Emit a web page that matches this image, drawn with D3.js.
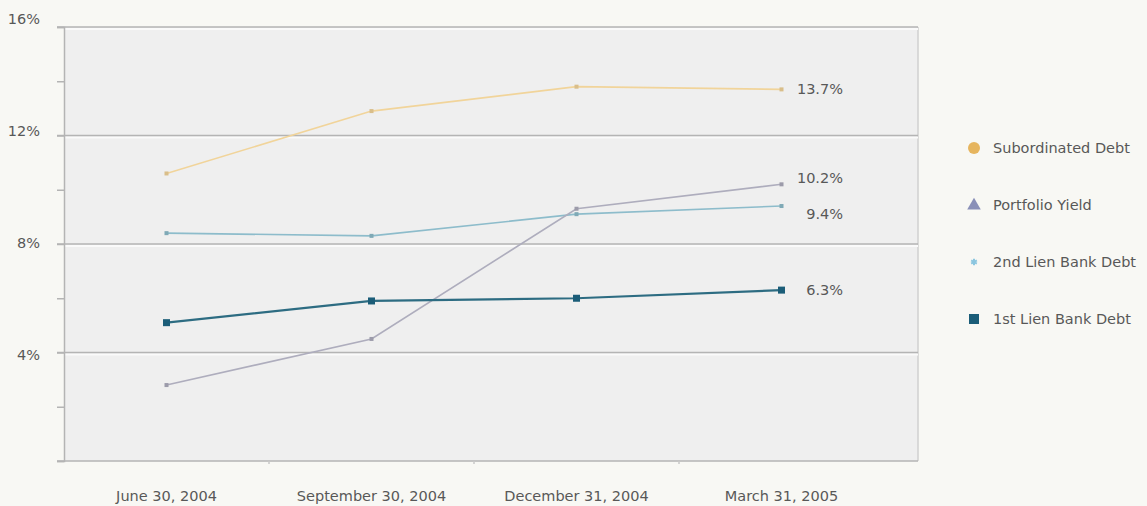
<!DOCTYPE html>
<html>
<head>
<meta charset="utf-8">
<script src="https://cdn.jsdelivr.net/npm/d3@7"></script>
<style>
  html, body { margin: 0; padding: 0; background: #f8f8f4; }
  svg { display: block; font-family: "DejaVu Sans", sans-serif; }
  .lbl { fill: #585858; font-size: 14.5px; }
</style>
</head>
<body>
<svg id="chart" width="1147" height="506"></svg>
<script>
const dates = ["June 30, 2004", "September 30, 2004", "December 31, 2004", "March 31, 2005"];
const yTicks = [0, 4, 8, 12, 16];
const subordinated = [10.6, 12.9, 13.8, 13.7];
const portfolio = [2.8, 4.5, 9.3, 10.2];
const secondLien = [8.4, 8.3, 9.1, 9.4];
const firstLien = [5.1, 5.9, 6.0, 6.3];

const series = [
  { name: "Subordinated Debt", values: subordinated, line: "#f1d49a", mark: "#e6b55e", shape: "circle", label: "13.7%" },
  { name: "Portfolio Yield", values: portfolio, line: "#aeadbd", mark: "#8a90b8", shape: "triangle", label: "10.2%" },
  { name: "2nd Lien Bank Debt", values: secondLien, line: "#8dbccb", mark: "#8cc6df", shape: "star", label: "9.4%" },
  { name: "1st Lien Bank Debt", values: firstLien, line: "#2d6c82", mark: "#1b5d78", shape: "square", label: "6.3%" },
];

const plot = { left: 64, right: 918, top: 27, bottom: 461 };
const svg = d3.select("#chart");

const x = d3.scaleBand().domain(dates).range([plot.left, 884]);
const y = d3.scaleLinear().domain([0, 16]).range([plot.bottom, plot.top]);
// tick labels sit on a slightly stretched scale, as in the original
const yLabel = d3.scaleLinear().domain([4, 16]).range([355, 19]);

// plot background
svg.append("rect")
  .attr("x", plot.left).attr("y", plot.top)
  .attr("width", plot.right - plot.left).attr("height", plot.bottom - plot.top)
  .attr("fill", "#efefef");

svg.append("line")
  .attr("x1", plot.right).attr("x2", plot.right)
  .attr("y1", plot.top).attr("y2", plot.bottom)
  .attr("stroke", "#d0d0d0").attr("stroke-width", 1.5);

// gridlines with white highlight
const grid = svg.append("g");
grid.selectAll("line.hl")
  .data(yTicks.filter((d) => d > 0))
  .join("line")
  .attr("class", "hl")
  .attr("x1", plot.left).attr("x2", plot.right)
  .attr("y1", (d) => y(d) + 2).attr("y2", (d) => y(d) + 2)
  .attr("stroke", "#fafafa").attr("stroke-width", 2);
grid.selectAll("line.g")
  .data(yTicks)
  .join("line")
  .attr("class", "g")
  .attr("x1", plot.left - 7).attr("x2", plot.right)
  .attr("y1", (d) => y(d)).attr("y2", (d) => y(d))
  .attr("stroke", "#b4b4b4").attr("stroke-width", 1.5);

// left axis with minor ticks
const yAxis = d3.axisLeft(y).tickValues(d3.range(0, 17, 2)).tickSize(7).tickFormat("");
const ya = svg.append("g").attr("transform", `translate(${plot.left},0)`).call(yAxis);
ya.selectAll("path, line").attr("stroke", "#b4b4b4").attr("stroke-width", 1.5);

// bottom axis ticks between bands
const bx = d3.scaleLinear().domain([0, 4]).range([plot.left, 884]);
svg.append("g").selectAll("line")
  .data([1, 2, 3])
  .join("line")
  .attr("x1", (d) => bx(d)).attr("x2", (d) => bx(d))
  .attr("y1", plot.bottom).attr("y2", plot.bottom + 3)
  .attr("stroke", "#c8c8c8").attr("stroke-width", 1.5);

// y labels
svg.append("g").selectAll("text")
  .data(yTicks.filter((d) => d > 0))
  .join("text")
  .attr("class", "lbl")
  .attr("x", 40).attr("y", (d) => yLabel(d))
  .attr("dy", "0.35em")
  .attr("text-anchor", "end")
  .text((d) => d + "%");

// x labels
svg.append("g").selectAll("text")
  .data(dates)
  .join("text")
  .attr("class", "lbl")
  .attr("x", (d) => x(d) + x.bandwidth() / 2)
  .attr("y", 496)
  .attr("dy", "0.35em")
  .attr("text-anchor", "middle")
  .text((d) => d);

const cx = (i) => x(dates[i]) + x.bandwidth() / 2;
const line = d3.line().x((d, i) => cx(i)).y((d) => y(d));

const lines = svg.append("g");
const drawOrder = [series[0], series[2], series[1], series[3]];
drawOrder.forEach((s) => {
  const big = s.shape === "square";
  lines.append("path")
    .datum(s.values)
    .attr("fill", "none")
    .attr("stroke", s.line)
    .attr("stroke-width", big ? 2.2 : 1.6)
    .attr("d", line);
  lines.append("g").selectAll("rect")
    .data(s.values)
    .join("rect")
    .attr("x", (d, i) => cx(i) - (big ? 3.5 : 2))
    .attr("y", (d) => y(d) - (big ? 3.5 : 2))
    .attr("width", big ? 7 : 4).attr("height", big ? 7 : 4)
    .attr("fill", big ? s.mark : d3.color(s.line).darker(0.3));
});

// end labels
const endOffsets = { "13.7%": 0, "10.2%": -6, "9.4%": 8, "6.3%": 0 };
svg.append("g").selectAll("text")
  .data(series)
  .join("text")
  .attr("class", "lbl")
  .attr("x", 843)
  .attr("y", (d) => y(d.values[3]) + endOffsets[d.label])
  .attr("dy", "0.35em")
  .attr("text-anchor", "end")
  .text((d) => d.label);

// legend
const legend = svg.append("g").attr("transform", "translate(974,148)");
const rows = legend.selectAll("g")
  .data(series)
  .join("g")
  .attr("transform", (d, i) => `translate(0,${i * 57})`);

rows.each(function (d) {
  const g = d3.select(this);
  if (d.shape === "circle") {
    g.append("circle").attr("r", 6).attr("fill", d.mark);
  } else if (d.shape === "triangle") {
    g.append("path").attr("d", d3.symbol(d3.symbolTriangle, 80)()).attr("fill", d.mark).attr("transform", "translate(0,0.5)");
  } else if (d.shape === "star") {
    g.append("path").attr("d", d3.symbol(d3.symbolAsterisk, 30)()).attr("stroke", d.mark).attr("stroke-width", 2);
  } else {
    g.append("rect").attr("x", -5).attr("y", -5).attr("width", 10).attr("height", 10).attr("fill", d.mark);
  }
  g.append("text")
    .attr("class", "lbl")
    .attr("x", 19)
    .attr("dy", "0.35em")
    .text(d.name);
});
</script>
</body>
</html>
